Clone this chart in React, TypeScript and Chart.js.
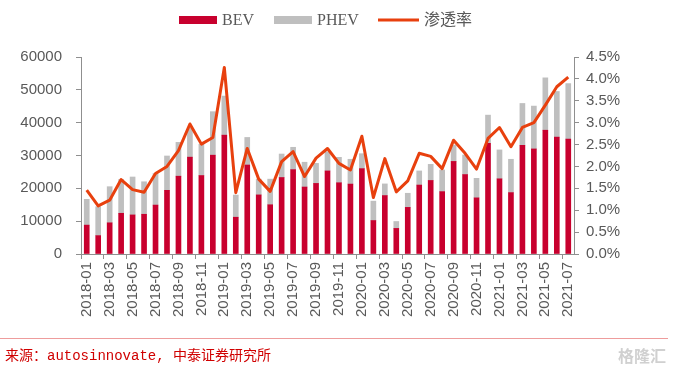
import React, { useEffect, useRef } from 'react';
import { Chart, registerables } from 'chart.js';

Chart.register(...registerables);

const categories = [
  '2018-01', '2018-02', '2018-03', '2018-04', '2018-05', '2018-06', '2018-07', '2018-08', '2018-09', '2018-10', '2018-11', '2018-12',
  '2019-01', '2019-02', '2019-03', '2019-04', '2019-05', '2019-06', '2019-07', '2019-08', '2019-09', '2019-10', '2019-11', '2019-12',
  '2020-01', '2020-02', '2020-03', '2020-04', '2020-05', '2020-06', '2020-07', '2020-08', '2020-09', '2020-10', '2020-11', '2020-12',
  '2021-01', '2021-02', '2021-03', '2021-04', '2021-05', '2021-06', '2021-07',
];

const bevSales = [
  8800, 5600, 9500, 12400, 11900, 12100, 14900, 19400, 23700, 29500, 23900, 30100,
  36200, 11200, 27100, 18000, 15000, 23300, 25700, 20400, 21500, 25300, 21700, 21300,
  26000, 10200, 17800, 7800, 14200, 21000, 22400, 19000, 28200, 24200, 17100, 33700,
  22900, 18700, 33100, 32000, 37700, 35600, 35000,
];

const phevSales = [
  7850, 8800, 11000, 10300, 11550, 9900, 9600, 10450, 10300, 8800, 9500, 13250,
  11900, 6750, 8400, 4800, 7800, 7150, 6800, 7550, 6100, 5850, 7750, 7550,
  4550, 5900, 3550, 2100, 4300, 4300, 4900, 6600, 5000, 5950, 5950, 8600,
  8800, 10150, 12750, 13050, 15950, 13900, 16900,
];

// penetration rate in percent
const penetration = [
  1.46, 1.10, 1.23, 1.70, 1.47, 1.41, 1.84, 2.00, 2.36, 2.97, 2.51, 2.66,
  4.26, 1.40, 2.41, 1.71, 1.43, 2.11, 2.34, 1.77, 2.19, 2.41, 2.07, 1.92,
  2.69, 1.29, 2.18, 1.42, 1.67, 2.30, 2.23, 1.95, 2.60, 2.30, 1.94, 2.64,
  2.89, 2.45, 2.89, 3.00, 3.40, 3.82, 4.04,
];

const seriesNames = ['BEV', 'PHEV', '渗透率'];
const sourceText = '来源：autosinnovate, 中泰证券研究所';
const watermarkText = '格隆汇';

const BEV_COLOR = '#C8002E';
const PHEV_COLOR = '#BFBFBF';
const LINE_COLOR = '#E8400E';
const AXIS_COLOR = '#8F8F8F';
const TEXT_COLOR = '#595959';
const TICK_FONT = { family: "'Liberation Sans', Arial, sans-serif", size: 15 };

const legendPlugin = {
  id: 'customLegend',
  afterDraw(chart: any) {
    const ctx = chart.ctx;
    const ds = chart.data.datasets;
    const find = (lbl: string) => ds.find((d: any) => d.label === lbl);
    const items = [
      { ds: find('BEV'), x: 179, kind: 'box' },
      { ds: find('PHEV'), x: 274, kind: 'box' },
      { ds: find('渗透率'), x: 378, kind: 'line' },
    ];
    const cy = 20;
    ctx.save();
    ctx.font = "16px 'Liberation Serif', 'Times New Roman', 'Noto Sans CJK SC', serif";
    ctx.textBaseline = 'middle';
    ctx.textAlign = 'left';
    for (const it of items) {
      if (!it.ds) continue;
      const w = it.kind === 'box' ? 38 : 41;
      if (it.kind === 'box') {
        ctx.fillStyle = it.ds.backgroundColor;
        ctx.fillRect(it.x, cy - 4, w, 8);
      } else {
        ctx.strokeStyle = it.ds.borderColor;
        ctx.lineWidth = 3;
        ctx.beginPath();
        ctx.moveTo(it.x, cy);
        ctx.lineTo(it.x + w, cy);
        ctx.stroke();
      }
      ctx.fillStyle = TEXT_COLOR;
      ctx.fillText(it.ds.label, it.x + w + 5, cy + 1);
    }
    ctx.restore();
  },
};

export default function App() {
  const canvasRef = useRef<HTMLCanvasElement | null>(null);

  useEffect(() => {
    document.body.style.margin = '0';
    const canvas = canvasRef.current;
    if (!canvas) return;
    const chart = new Chart(canvas, {
      data: {
        labels: categories,
        datasets: [
          {
            type: 'line',
            label: seriesNames[2],
            data: penetration,
            yAxisID: 'y1',
            borderColor: LINE_COLOR,
            backgroundColor: LINE_COLOR,
            borderWidth: 3,
            pointRadius: 0,
            tension: 0,
            borderJoinStyle: 'round',
            order: 0,
          } as any,
          {
            type: 'bar',
            label: seriesNames[0],
            data: bevSales,
            yAxisID: 'y',
            backgroundColor: BEV_COLOR,
            stack: 's',
            barThickness: 5,
            order: 1,
          },
          {
            type: 'bar',
            label: seriesNames[1],
            data: phevSales,
            yAxisID: 'y',
            backgroundColor: PHEV_COLOR,
            stack: 's',
            barThickness: 5,
            order: 1,
          },
        ],
      },
      options: {
        responsive: false,
        animation: false,
        layout: { padding: { top: 57, left: 0, right: 0, bottom: 0 } },
        plugins: { legend: { display: false }, tooltip: { enabled: false } },
        scales: {
          x: {
            stacked: true,
            offset: true,
            grid: {
              offset: true,
              drawOnChartArea: false,
              drawTicks: true,
              tickLength: 5,
              color: (c: any) => (c.index % 2 === 0 ? AXIS_COLOR : 'rgba(0,0,0,0)'),
            },
            border: { display: true, color: AXIS_COLOR, width: 1 },
            ticks: {
              autoSkip: false,
              maxRotation: 90,
              minRotation: 90,
              padding: 3,
              color: TEXT_COLOR,
              font: TICK_FONT,
              callback: (_v: any, i: number) => (i % 2 === 0 ? categories[i] : ''),
            },
            afterFit: (s: any) => { s.height = 118; },
          },
          y: {
            position: 'left',
            stacked: true,
            min: 0,
            max: 60000,
            grid: { drawOnChartArea: false, tickLength: 5, color: AXIS_COLOR },
            border: { display: true, color: AXIS_COLOR, width: 1 },
            ticks: {
              stepSize: 10000,
              padding: 14,
              color: TEXT_COLOR,
              font: TICK_FONT,
              callback: (v: any) => String(v),
            },
            afterFit: (s: any) => { s.width = 81; },
          },
          y1: {
            position: 'right',
            min: 0,
            max: 4.5,
            grid: { drawOnChartArea: false, tickLength: 5, color: AXIS_COLOR },
            border: { display: true, color: AXIS_COLOR, width: 1 },
            ticks: {
              stepSize: 0.5,
              padding: 7,
              color: TEXT_COLOR,
              font: TICK_FONT,
              callback: (v: any) => Number(v).toFixed(1) + '%',
            },
            afterFit: (s: any) => { s.width = 111; },
          },
        },
      },
      plugins: [legendPlugin],
    } as any);
    return () => chart.destroy();
  }, []);

  return (
    <div style={{ position: 'relative', width: 685, height: 372, background: '#fff', overflow: 'hidden' }}>
      <canvas ref={canvasRef} width={685} height={372} style={{ display: 'block' }} />
      <div style={{ position: 'absolute', left: 0, top: 338, width: 668, height: 1, background: '#EE9C9C' }} />
      <div
        style={{
          position: 'absolute',
          left: 5,
          top: 346,
          fontFamily: "'Liberation Mono', 'DejaVu Sans Mono', 'Noto Sans CJK SC', monospace",
          fontSize: 14,
          lineHeight: '20px',
          color: '#D00000',
          whiteSpace: 'nowrap',
        }}
      >
        {sourceText}
      </div>
      <div
        style={{
          position: 'absolute',
          left: 618,
          top: 345,
          fontFamily: "'Noto Sans CJK SC', sans-serif",
          fontSize: 16,
          lineHeight: '20px',
          fontWeight: 700,
          color: '#D0D0D0',
          whiteSpace: 'nowrap',
        }}
      >
        {watermarkText}
      </div>
    </div>
  );
}
